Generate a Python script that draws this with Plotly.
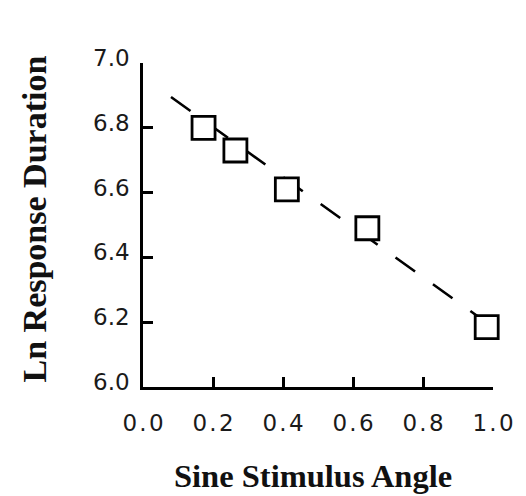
import plotly.graph_objects as go

# Data
sine_angle = [0.173, 0.264, 0.411, 0.641, 0.982]
ln_duration = [6.80, 6.73, 6.61, 6.49, 6.185]

fit_x = [0.08, 0.98]
fit_y = [6.895, 6.200]

x_ticks = [0.0, 0.2, 0.4, 0.6, 0.8, 1.0]
x_ticklabels = ["0.0", "0.2", "0.4", "0.6", "0.8", "1.0"]
y_ticks = [6.0, 6.2, 6.4, 6.6, 6.8, 7.0]
y_ticklabels = ["6.0", "6.2", "6.4", "6.6", "6.8", "7.0"]

W, H = 526, 496
L, R, T, B = 143, 25, 63, 109
pw, ph = W - L - R, H - T - B

fig = go.Figure()
fig.add_trace(go.Scatter(
    x=fit_x, y=fit_y, mode="lines",
    line=dict(color="black", width=2.6, dash="24px,22px"),
    hoverinfo="skip", showlegend=False, cliponaxis=False,
))
fig.add_trace(go.Scatter(
    x=sine_angle, y=ln_duration, mode="markers",
    marker=dict(symbol="square", size=23, color="white",
                line=dict(color="black", width=2.8)),
    showlegend=False, cliponaxis=False,
))

def spaced(s):
    return "\u200a".join(s)

tickfont = dict(family="DejaVu Sans", size=23, color="#1a1a1a")
fig.update_xaxes(
    range=[0, 1], tickvals=x_ticks, ticktext=[spaced(t) for t in x_ticklabels],
    showline=True, linecolor="black", linewidth=2.6,
    ticks="inside", ticklen=10, tickwidth=2.6, tickcolor="black",
    showgrid=False, zeroline=False, tickfont=tickfont,
    ticklabelstandoff=14, fixedrange=True,
)
fig.update_yaxes(
    range=[6.0, 7.0], tickvals=y_ticks, ticktext=y_ticklabels,
    showline=True, linecolor="black", linewidth=2.6,
    ticks="inside", ticklen=10, tickwidth=2.6, tickcolor="black",
    showgrid=False, zeroline=False, tickfont=tickfont,
    ticklabelstandoff=6, ticklabelshift=-5, fixedrange=True,
)

title_font = dict(family="Liberation Serif", color="#111")
fig.add_annotation(
    text="<b>Sine Stimulus Angle</b>", showarrow=False,
    xref="paper", yref="paper",
    x=(317 - L) / pw, y=(H - B - 476) / ph,
    xanchor="center", yanchor="middle",
    font=dict(size=32.5, **title_font),
)
fig.add_annotation(
    text="<b>Ln Response Duration</b>", showarrow=False,
    xref="paper", yref="paper", textangle=-90,
    x=(31 - L) / pw, y=(H - B - 219) / ph,
    xanchor="center", yanchor="middle",
    font=dict(size=34, **title_font),
)

fig.update_layout(
    width=W, height=H,
    margin=dict(l=L, r=R, t=T, b=B),
    paper_bgcolor="white", plot_bgcolor="white",
)

fig.write_html("out.html")
